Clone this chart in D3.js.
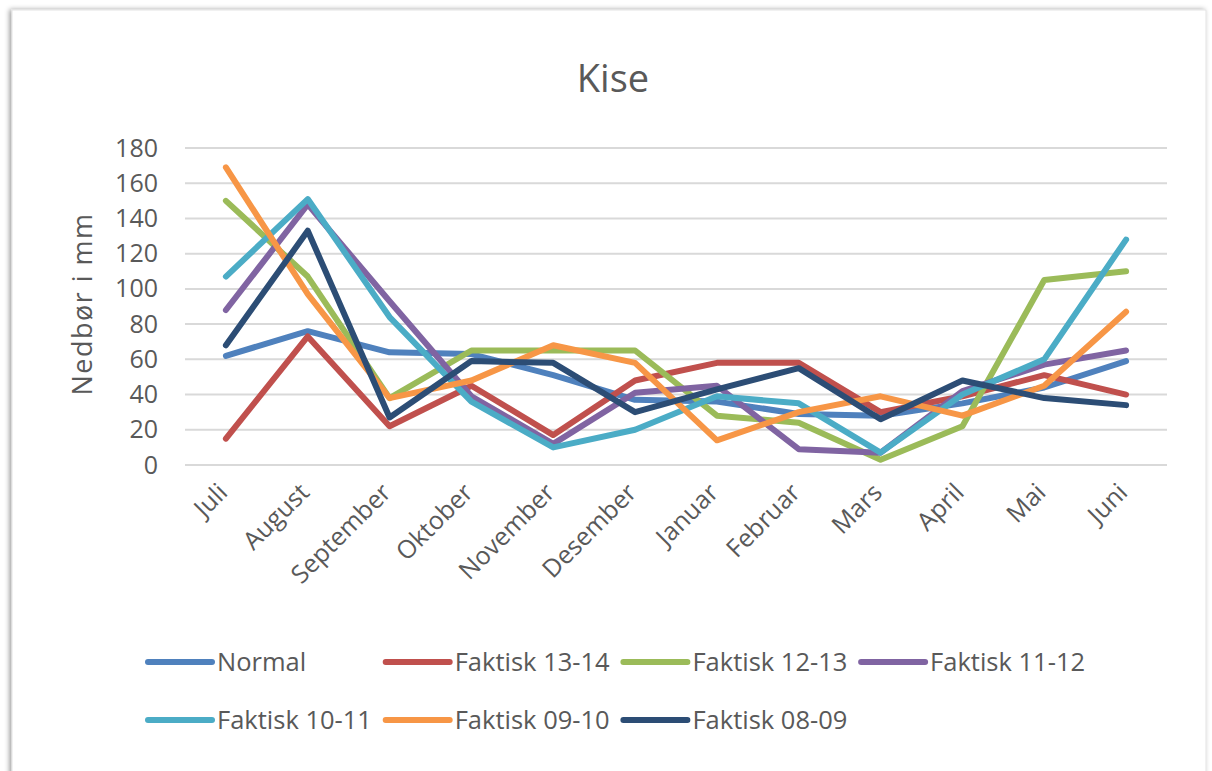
<!DOCTYPE html>
<html>
<head>
<meta charset="utf-8">
<script src="https://cdn.jsdelivr.net/npm/d3@7"></script>
<style>
body { margin: 0; background: #ffffff; }
text { font-family: "Open Sans", "Noto Sans", sans-serif; fill: #595959; }
</style>
</head>
<body>
<div id="chart"></div>
<script>
var width = 1212
var height = 771

// data (mm)
var months = ['Juli', 'August', 'September', 'Oktober', 'November', 'Desember', 'Januar', 'Februar', 'Mars', 'April', 'Mai', 'Juni']
var series_names = ['Normal', 'Faktisk 13-14', 'Faktisk 12-13', 'Faktisk 11-12', 'Faktisk 10-11', 'Faktisk 09-10', 'Faktisk 08-09']
var series_colours = ['#4F81BD', '#C0504D', '#9BBB59', '#8064A2', '#4BACC6', '#F79646', '#2C4D75']

var normal = [62, 76, 64, 63, 51, 37, 36, 29, 28, 35, 44, 59]
var faktisk_13_14 = [15, 73, 22, 45, 17, 48, 58, 58, 30, 39, 51, 40]
var faktisk_12_13 = [150, 107, 38, 65, 65, 65, 28, 24, 3, 22, 105, 110]
var faktisk_11_12 = [88, 148, 93, 39, 12, 41, 45, 9, 7, 42, 57, 65]
var faktisk_10_11 = [107, 151, 84, 36, 10, 20, 39, 35, 7, 40, 60, 128]
var faktisk_09_10 = [169, 97, 38, 48, 68, 58, 14, 30, 39, 28, 45, 87]
var faktisk_08_09 = [68, 133, 27, 59, 58, 30, 43, 55, 26, 48, 38, 34]

var y_ticks = [0, 20, 40, 60, 80, 100, 120, 140, 160, 180]

var all_series = [normal, faktisk_13_14, faktisk_12_13, faktisk_11_12, faktisk_10_11, faktisk_09_10, faktisk_08_09]

var svg = d3.select('#chart')
  .append('svg')
  .attr('width', width)
  .attr('height', height)

// soft shadow for the chart frame
var defs = svg.append('defs')
var shadow = defs.append('filter')
  .attr('id', 'frame_shadow')
  .attr('x', '-5%').attr('y', '-5%')
  .attr('width', '110%').attr('height', '110%')
shadow.append('feDropShadow')
  .attr('dx', -2)
  .attr('dy', 0)
  .attr('stdDeviation', 2.5)
  .attr('flood-color', '#000000')
  .attr('flood-opacity', 0.4)

svg.append('rect')
  .attr('x', 12)
  .attr('y', 10)
  .attr('width', 1194)
  .attr('height', 790)
  .attr('fill', '#ffffff')
  .attr('stroke', '#e3e3e3')
  .attr('stroke-width', 1)
  .attr('filter', 'url(#frame_shadow)')

var x = d3.scaleBand()
  .domain(months)
  .range([185, 1167])

var y = d3.scaleLinear()
  .domain([0, 180])
  .range([465, 148])

// gridlines
svg.append('g')
  .selectAll('line')
  .data(y_ticks)
  .enter()
  .append('line')
  .attr('x1', 185)
  .attr('x2', 1167)
  .attr('y1', function(d) { return y(d) })
  .attr('y2', function(d) { return y(d) })
  .attr('stroke', '#d9d9d9')
  .attr('stroke-width', 2)

// y axis labels
var y_axis = svg.append('g')
  .attr('transform', 'translate(158,0)')
  .call(d3.axisLeft(y).tickValues(y_ticks).tickSize(0).tickPadding(0))
y_axis.select('.domain').remove()
y_axis.selectAll('text')
  .attr('fill', '#595959')
  .style('font-size', '25px')
  .style('font-family', '"Open Sans", sans-serif')

// x axis labels, rotated
var x_axis = svg.append('g')
  .attr('transform', 'translate(0,465)')
  .call(d3.axisBottom(x).tickSize(0).tickPadding(0))
x_axis.select('.domain').remove()
x_axis.selectAll('text')
  .attr('fill', '#595959')
  .style('font-size', '25px')
  .style('font-family', '"Open Sans", sans-serif')
  .attr('text-anchor', 'end')
  .attr('dy', 0)
  .attr('transform', 'translate(3,29) rotate(-45)')

var line = d3.line()
  .x(function(d, i) { return x(months[i]) + x.bandwidth() / 2 })
  .y(function(d) { return y(d) })

svg.append('g')
  .selectAll('path')
  .data(all_series)
  .enter()
  .append('path')
  .attr('d', line)
  .attr('fill', 'none')
  .attr('stroke', function(d, i) { return series_colours[i] })
  .attr('stroke-width', 6)
  .attr('stroke-linejoin', 'round')
  .attr('stroke-linecap', 'round')

// title
svg.append('text')
  .attr('x', 613)
  .attr('y', 92)
  .attr('text-anchor', 'middle')
  .style('font-size', '38px')
  .text('Kise')

// y axis title
svg.append('text')
  .attr('transform', 'translate(92,304) rotate(-90)')
  .attr('text-anchor', 'middle')
  .style('font-size', '27px')
  .style('letter-spacing', '1.5px')
  .text('Nedbør i mm')

// legend
var legend = svg.append('g')
  .selectAll('g')
  .data(series_names)
  .enter()
  .append('g')
  .attr('transform', function(d, i) {
    return 'translate(' + (148 + (i % 4) * 237.7) + ',' + (662 + Math.floor(i / 4) * 58) + ')' })

legend.append('line')
  .attr('x1', 0)
  .attr('x2', 64)
  .attr('y1', 0)
  .attr('y2', 0)
  .attr('stroke', function(d, i) { return series_colours[i] })
  .attr('stroke-width', 6)
  .attr('stroke-linecap', 'round')

legend.append('text')
  .attr('x', 69)
  .attr('y', 9)
  .style('font-size', '25.5px')
  .text(function(d) { return d })
</script>
</body>
</html>
